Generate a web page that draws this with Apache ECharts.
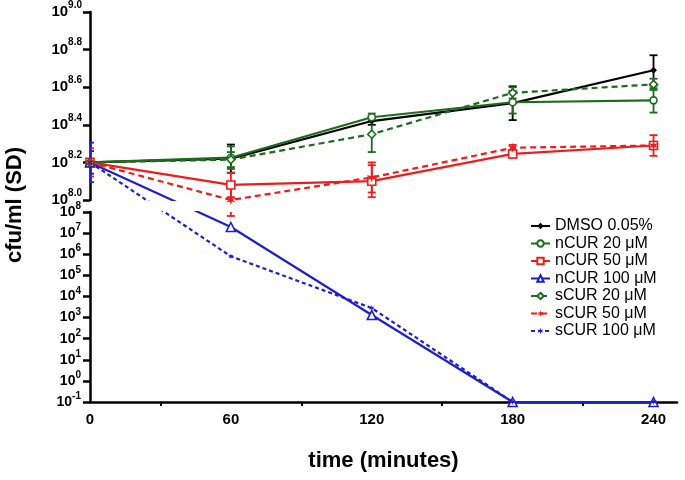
<!DOCTYPE html>
<html><head><meta charset="utf-8">
<script src="https://cdn.jsdelivr.net/npm/echarts@6/dist/echarts.min.js"></script>
<style>html,body{margin:0;padding:0;background:#fff}#c{width:685px;height:480px}</style>
</head><body><div id="c"></div>
<script>
// ---- data (values are log10 of cfu/ml) ----
const times = [0, 60, 120, 180, 240];
const seriesNames = ['DMSO 0.05%', 'nCUR 20 μM', 'nCUR 50 μM', 'nCUR 100 μM', 'sCUR 20 μM', 'sCUR 50 μM', 'sCUR 100 μM'];
const dmso     = [8.2, 8.22, 8.42, 8.515, 8.69];
const dmsoSD   = [0, 0.075, 0.02, 0.09, 0.08];
const ncur20   = [8.2, 8.225, 8.44, 8.52, 8.53];
const ncur20SD = [0, 0.06, 0.02, 0.06, 0.065];
const ncur50   = [8.2, 8.08, 8.10, 8.245, 8.29];
const ncur50SD = [0.075, 0.065, 0.085, 0.02, 0.055];
const ncur100  = [8.2, 7.29, 3.12, -1, -1];
const ncur100SD= [0.105, 0, 0, 0, 0];
const scur20   = [8.2, 8.215, 8.35, 8.57, 8.615];
const scur20SD = [0, 0.04, 0.095, 0.03, 0.03];
const scur50   = [8.2, 8.0, 8.12, 8.278, 8.29];
const scur50SD = [0.02, 0.085, 0.08, 0.015, 0.02];
const scur100  = [8.2, 5.9, 3.45, -1, -1];
const scur100SD= [0.06, 0, 0, 0, 0];
const xTickLabels = [0, 60, 120, 180, 240];
const xMinorTicks = [30, 90, 150, 210];
const BREAK = 8.0;

const FONT = '"Liberation Sans", Arial, sans-serif';
function starPath(n, rOut, rIn) {
  let s = 'path://';
  for (let i = 0; i < 2 * n; i++) {
    const r = i % 2 === 0 ? rOut : rIn;
    const a = Math.PI * i / n - Math.PI / 2;
    s += (i === 0 ? 'M' : 'L') + (50 + r * Math.cos(a)).toFixed(2) + ',' + (50 + r * Math.sin(a)).toFixed(2) + ' ';
  }
  return s + 'Z';
}
const STAR = starPath(6, 50, 18);
const GREEN = '#1d6b1d', RED = '#ee1c1c', BLUE = '#1f1fc8';

const defs = [
  {vals: dmso,    sd: dmsoSD,    color: '#000', symbol: 'diamond',  size: 7, fill: true,  dash: 'solid'},
  {vals: ncur20,  sd: ncur20SD,  color: GREEN,  symbol: 'circle',   size: 7, fill: false, dash: 'solid'},
  {vals: ncur50,  sd: ncur50SD,  color: RED,    symbol: 'rect',     size: 8, fill: false, dash: 'solid'},
  {vals: ncur100, sd: ncur100SD, color: BLUE,   symbol: 'triangle', size: 9, fill: false, dash: 'solid'},
  {vals: scur20,  sd: scur20SD,  color: GREEN,  symbol: 'diamond',  size: 8, fill: false, dash: [6, 4]},
  {vals: scur50,  sd: scur50SD,  color: RED,    symbol: STAR,       size: 10, fill: true, dash: [6, 4]},
  {vals: scur100, sd: scur100SD, color: BLUE,   symbol: STAR,       size: 6, fill: true,  dash: [4, 3]}
];

const chart = echarts.init(document.getElementById('c'));
const axisLineStyle = {color: '#000', width: 2.5};
chart.setOption({
  animation: false,
  backgroundColor: '#fff',
  grid: [
    {left: 90, right: 8, top: 12, height: 188},
    {left: 90, right: 8, top: 212, height: 190}
  ],
  xAxis: [
    {gridIndex: 0, type: 'value', min: 0, max: 250, show: false},
    {gridIndex: 1, type: 'value', min: 0, max: 250,
     axisLine: {show: true, onZero: false, lineStyle: axisLineStyle},
     splitLine: {show: false},
     axisTick: {show: true, customValues: xMinorTicks, length: 4, lineStyle: {width: 2, color: '#000'}},
     axisLabel: {customValues: xTickLabels, fontSize: 15, fontWeight: 'bold', color: '#000', margin: 10, fontFamily: FONT},
     name: 'time (minutes)', nameLocation: 'middle', nameGap: 48,
     nameTextStyle: {fontSize: 22, fontWeight: 'bold', color: '#000', fontFamily: FONT}}
  ],
  yAxis: [
    {gridIndex: 0, type: 'value', min: 8, max: 9, interval: 0.2,
     axisLine: {show: true, onZero: false, lineStyle: axisLineStyle},
     axisTick: {show: true, length: 7, lineStyle: {width: 2.5, color: '#000'}},
     splitLine: {show: false},
     axisLabel: {margin: 8, formatter: v => '{b|10}{s|' + v.toFixed(1) + '}',
       rich: {b: {fontSize: 15, fontWeight: 'bold', color: '#000', fontFamily: FONT, lineHeight: 24},
              s: {fontSize: 10, fontWeight: 'bold', color: '#000', fontFamily: FONT, verticalAlign: 'top'}}}},
    {gridIndex: 1, type: 'value', min: -1, max: 8, interval: 1,
     axisLine: {show: true, onZero: false, lineStyle: axisLineStyle},
     axisTick: {show: true, length: 7, lineStyle: {width: 2.5, color: '#000'}},
     splitLine: {show: false},
     axisLabel: {margin: 9, formatter: v => '{b|10}{s|' + Math.round(v) + '}',
       rich: {b: {fontSize: 14, fontWeight: 'bold', color: '#000', fontFamily: FONT, lineHeight: 21},
              s: {fontSize: 10, fontWeight: 'bold', color: '#000', fontFamily: FONT, verticalAlign: 'top'}}}}
  ],
  graphic: [{type: 'text', x: 15, y: 205, rotation: Math.PI / 2,
    style: {text: 'cfu/ml (SD)', fontSize: 22, fontWeight: 'bold', fontFamily: FONT, fill: '#000',
            align: 'center', verticalAlign: 'middle', textAlign: 'center', textVerticalAlign: 'middle'}}],
  series: []
});

// broken axis: lines are continuous in pixel space across the break
function home(e) { return e >= BREAK ? 0 : 1; }
function pix(g, e) { return chart.convertToPixel({yAxisIndex: g}, e); }
function virt(g, p) { return chart.convertFromPixel({yAxisIndex: g}, p); }
function inGrid(g, e, ref) { const h = home(ref); return h === g ? e : virt(g, pix(h, e)); }

const series = [];
[0, 1].forEach(g => {
  const errData = [];
  defs.forEach((d, k) => {
    const data = times.map((t, i) => {
      const e = d.vals[i];
      const item = {value: [t, inGrid(g, e, e)]};
      if (home(e) !== g) item.symbol = 'none';
      if (d.sd[i] > 0) errData.push([t, inGrid(g, e - d.sd[i], e), inGrid(g, e + d.sd[i], e), k]);
      return item;
    });
    series.push({
      type: 'line', name: seriesNames[k], xAxisIndex: g, yAxisIndex: g, clip: true, z: 3,
      symbol: d.symbol, symbolSize: d.size, showSymbol: true,
      lineStyle: {color: d.color, width: 2.2, type: d.dash},
      itemStyle: d.fill ? {color: d.color} : {color: '#fff', borderColor: d.color, borderWidth: 1.6},
      emphasis: {disabled: true},
      data
    });
  });
  series.push({
    type: 'custom', name: 'err' + g, xAxisIndex: g, yAxisIndex: g, clip: true, silent: true, z: 2,
    encode: {x: 0, y: [1, 2]},
    renderItem: (params, api) => {
      const t = api.value(0), lo = api.value(1), hi = api.value(2), k = api.value(3);
      const a = api.coord([t, lo]), b = api.coord([t, hi]);
      const st = {stroke: defs[k].color, lineWidth: 1.8};
      return {type: 'group', children: [
        {type: 'line', shape: {x1: a[0], y1: a[1], x2: b[0], y2: b[1]}, style: st},
        {type: 'line', shape: {x1: a[0] - 4, y1: a[1], x2: a[0] + 4, y2: a[1]}, style: st},
        {type: 'line', shape: {x1: b[0] - 4, y1: b[1], x2: b[0] + 4, y2: b[1]}, style: st}
      ]};
    },
    data: errData
  });
});

chart.setOption({
  legend: {orient: 'vertical', left: 530, top: 218, itemWidth: 19, itemHeight: 8, itemGap: 1.5, padding: 0,
    selectedMode: false, data: seriesNames,
    textStyle: {fontSize: 16, color: '#000', fontFamily: FONT}},
  series
});
</script></body></html>
